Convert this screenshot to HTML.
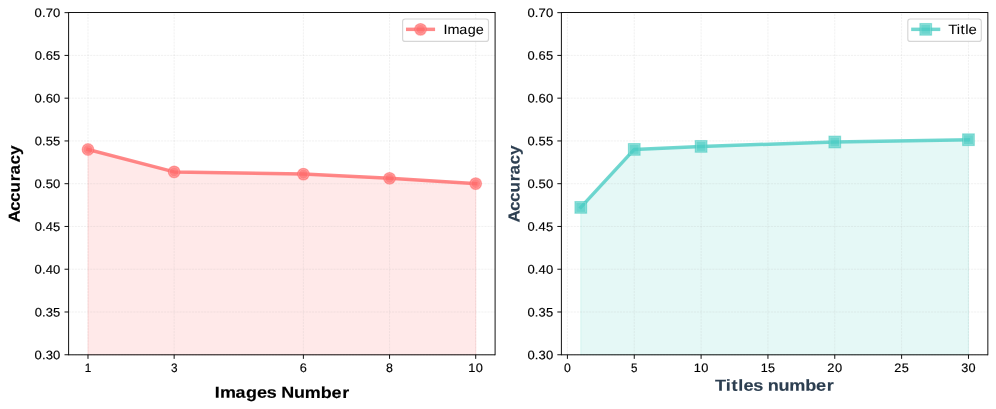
<!DOCTYPE html>
<html><head><meta charset="utf-8"><title>Accuracy vs Images / Titles</title>
<style>
html,body{margin:0;padding:0;background:#fff;}
body{width:996px;height:409px;overflow:hidden;}
svg{display:block;position:absolute;left:0;top:0;will-change:transform;}
svg text{font-family:"Liberation Sans",sans-serif;}
</style></head><body>
<svg width="996" height="409" viewBox="0 0 996 409">
<rect width="996" height="409" fill="#fff"/>
<polygon points="87.99,354.75 87.99,149.50 174.15,171.90 303.39,174.10 389.55,178.30 475.71,183.60 475.71,354.75" fill="#ff6b6b" fill-opacity="0.15" stroke="#ff6b6b" stroke-opacity="0.15" stroke-width="1.164"/>
<line x1="87.99" y1="354.75" x2="87.99" y2="12.65" stroke="#b0b0b0" stroke-opacity="0.3" stroke-width="0.58" stroke-dasharray="2.15 0.93"/>
<line x1="174.15" y1="354.75" x2="174.15" y2="12.65" stroke="#b0b0b0" stroke-opacity="0.3" stroke-width="0.58" stroke-dasharray="2.15 0.93"/>
<line x1="303.39" y1="354.75" x2="303.39" y2="12.65" stroke="#b0b0b0" stroke-opacity="0.3" stroke-width="0.58" stroke-dasharray="2.15 0.93"/>
<line x1="389.55" y1="354.75" x2="389.55" y2="12.65" stroke="#b0b0b0" stroke-opacity="0.3" stroke-width="0.58" stroke-dasharray="2.15 0.93"/>
<line x1="475.71" y1="354.75" x2="475.71" y2="12.65" stroke="#b0b0b0" stroke-opacity="0.3" stroke-width="0.58" stroke-dasharray="2.15 0.93"/>
<line x1="68.6" y1="354.75" x2="495.1" y2="354.75" stroke="#b0b0b0" stroke-opacity="0.3" stroke-width="0.58" stroke-dasharray="2.15 0.93"/>
<line x1="68.6" y1="311.99" x2="495.1" y2="311.99" stroke="#b0b0b0" stroke-opacity="0.3" stroke-width="0.58" stroke-dasharray="2.15 0.93"/>
<line x1="68.6" y1="269.22" x2="495.1" y2="269.22" stroke="#b0b0b0" stroke-opacity="0.3" stroke-width="0.58" stroke-dasharray="2.15 0.93"/>
<line x1="68.6" y1="226.46" x2="495.1" y2="226.46" stroke="#b0b0b0" stroke-opacity="0.3" stroke-width="0.58" stroke-dasharray="2.15 0.93"/>
<line x1="68.6" y1="183.70" x2="495.1" y2="183.70" stroke="#b0b0b0" stroke-opacity="0.3" stroke-width="0.58" stroke-dasharray="2.15 0.93"/>
<line x1="68.6" y1="140.94" x2="495.1" y2="140.94" stroke="#b0b0b0" stroke-opacity="0.3" stroke-width="0.58" stroke-dasharray="2.15 0.93"/>
<line x1="68.6" y1="98.17" x2="495.1" y2="98.17" stroke="#b0b0b0" stroke-opacity="0.3" stroke-width="0.58" stroke-dasharray="2.15 0.93"/>
<line x1="68.6" y1="55.41" x2="495.1" y2="55.41" stroke="#b0b0b0" stroke-opacity="0.3" stroke-width="0.58" stroke-dasharray="2.15 0.93"/>
<line x1="68.6" y1="12.65" x2="495.1" y2="12.65" stroke="#b0b0b0" stroke-opacity="0.3" stroke-width="0.58" stroke-dasharray="2.15 0.93"/>
<polyline points="87.99,149.50 174.15,171.90 303.39,174.10 389.55,178.30 475.71,183.60" fill="none" stroke="#ff6b6b" stroke-opacity="0.8" stroke-width="3.492" stroke-linejoin="round" stroke-linecap="square"/>
<circle cx="87.99" cy="149.50" r="5.82" fill="#ff6b6b" fill-opacity="0.8" stroke="#ff6b6b" stroke-opacity="0.5" stroke-width="1.164"/>
<circle cx="87.99" cy="149.50" r="4.80" fill="#ff6b6b" fill-opacity="0.12" stroke="#fff" stroke-opacity="0.28" stroke-width="0.7"/>
<circle cx="174.15" cy="171.90" r="5.82" fill="#ff6b6b" fill-opacity="0.8" stroke="#ff6b6b" stroke-opacity="0.5" stroke-width="1.164"/>
<circle cx="174.15" cy="171.90" r="4.80" fill="#ff6b6b" fill-opacity="0.12" stroke="#fff" stroke-opacity="0.28" stroke-width="0.7"/>
<circle cx="303.39" cy="174.10" r="5.82" fill="#ff6b6b" fill-opacity="0.8" stroke="#ff6b6b" stroke-opacity="0.5" stroke-width="1.164"/>
<circle cx="303.39" cy="174.10" r="4.80" fill="#ff6b6b" fill-opacity="0.12" stroke="#fff" stroke-opacity="0.28" stroke-width="0.7"/>
<circle cx="389.55" cy="178.30" r="5.82" fill="#ff6b6b" fill-opacity="0.8" stroke="#ff6b6b" stroke-opacity="0.5" stroke-width="1.164"/>
<circle cx="389.55" cy="178.30" r="4.80" fill="#ff6b6b" fill-opacity="0.12" stroke="#fff" stroke-opacity="0.28" stroke-width="0.7"/>
<circle cx="475.71" cy="183.60" r="5.82" fill="#ff6b6b" fill-opacity="0.8" stroke="#ff6b6b" stroke-opacity="0.5" stroke-width="1.164"/>
<circle cx="475.71" cy="183.60" r="4.80" fill="#ff6b6b" fill-opacity="0.12" stroke="#fff" stroke-opacity="0.28" stroke-width="0.7"/>
<path d="M68.6,354.8 H495.1 M68.6,12.5 H495.1 M68.6,355.265 V12.035 M495.1,355.265 V12.035" fill="none" stroke="#000" stroke-width="0.93"/>
<line x1="87.99" y1="354.8" x2="87.99" y2="358.87" stroke="#000" stroke-width="0.93"/>
<line x1="174.15" y1="354.8" x2="174.15" y2="358.87" stroke="#000" stroke-width="0.93"/>
<line x1="303.39" y1="354.8" x2="303.39" y2="358.87" stroke="#000" stroke-width="0.93"/>
<line x1="389.55" y1="354.8" x2="389.55" y2="358.87" stroke="#000" stroke-width="0.93"/>
<line x1="475.71" y1="354.8" x2="475.71" y2="358.87" stroke="#000" stroke-width="0.93"/>
<line x1="64.53" y1="354.75" x2="68.6" y2="354.75" stroke="#000" stroke-width="0.93"/>
<line x1="64.53" y1="311.99" x2="68.6" y2="311.99" stroke="#000" stroke-width="0.93"/>
<line x1="64.53" y1="269.22" x2="68.6" y2="269.22" stroke="#000" stroke-width="0.93"/>
<line x1="64.53" y1="226.46" x2="68.6" y2="226.46" stroke="#000" stroke-width="0.93"/>
<line x1="64.53" y1="183.70" x2="68.6" y2="183.70" stroke="#000" stroke-width="0.93"/>
<line x1="64.53" y1="140.94" x2="68.6" y2="140.94" stroke="#000" stroke-width="0.93"/>
<line x1="64.53" y1="98.17" x2="68.6" y2="98.17" stroke="#000" stroke-width="0.93"/>
<line x1="64.53" y1="55.41" x2="68.6" y2="55.41" stroke="#000" stroke-width="0.93"/>
<line x1="64.53" y1="12.65" x2="68.6" y2="12.65" stroke="#000" stroke-width="0.93"/>
<text transform="translate(84.28,371.95) rotate(0.05) scale(0.9502,1)" x="0.41" font-size="12.33" font-weight="normal" fill="#000" stroke="#000" stroke-width="0.15">1</text>
<text transform="translate(170.45,371.95) rotate(0.05) scale(0.9554,1)" x="0.46" font-size="12.33" font-weight="normal" fill="#000" stroke="#000" stroke-width="0.15">3</text>
<text transform="translate(299.69,371.95) rotate(0.05) scale(1.0296,1)" x="0.16" font-size="12.33" font-weight="normal" fill="#000" stroke="#000" stroke-width="0.15">6</text>
<text transform="translate(385.85,371.95) rotate(0.05) scale(1.0056,1)" x="0.25" font-size="12.33" font-weight="normal" fill="#000" stroke="#000" stroke-width="0.15">8</text>
<text transform="translate(468.31,371.95) rotate(0.05) scale(1.0376,1)" x="0.07 7.27" font-size="12.33" font-weight="normal" fill="#000" stroke="#000" stroke-width="0.15">10</text>
<text transform="translate(34.53,359.15) rotate(0.05) scale(1.0580,1)" x="0.07 7.03 10.58 17.56" font-size="12.33" font-weight="normal" fill="#000" stroke="#000" stroke-width="0.15">0.30</text>
<text transform="translate(34.53,316.39) rotate(0.05) scale(1.0490,1)" x="0.10 7.10 10.70 17.70" font-size="12.33" font-weight="normal" fill="#000" stroke="#000" stroke-width="0.15">0.35</text>
<text transform="translate(34.53,273.62) rotate(0.05) scale(1.0580,1)" x="0.07 7.03 10.57 17.56" font-size="12.33" font-weight="normal" fill="#000" stroke="#000" stroke-width="0.15">0.40</text>
<text transform="translate(34.53,230.86) rotate(0.05) scale(1.0490,1)" x="0.10 7.10 10.69 17.70" font-size="12.33" font-weight="normal" fill="#000" stroke="#000" stroke-width="0.15">0.45</text>
<text transform="translate(34.53,188.10) rotate(0.05) scale(1.0580,1)" x="0.07 7.03 10.52 17.56" font-size="12.33" font-weight="normal" fill="#000" stroke="#000" stroke-width="0.15">0.50</text>
<text transform="translate(34.53,145.34) rotate(0.05) scale(1.0490,1)" x="0.10 7.10 10.64 17.70" font-size="12.33" font-weight="normal" fill="#000" stroke="#000" stroke-width="0.15">0.55</text>
<text transform="translate(34.53,102.57) rotate(0.05) scale(1.0580,1)" x="0.07 7.03 10.56 17.56" font-size="12.33" font-weight="normal" fill="#000" stroke="#000" stroke-width="0.15">0.60</text>
<text transform="translate(34.53,59.81) rotate(0.05) scale(1.0490,1)" x="0.10 7.10 10.68 17.70" font-size="12.33" font-weight="normal" fill="#000" stroke="#000" stroke-width="0.15">0.65</text>
<text transform="translate(34.53,17.05) rotate(0.05) scale(1.0580,1)" x="0.07 7.03 10.54 17.56" font-size="12.33" font-weight="normal" fill="#000" stroke="#000" stroke-width="0.15">0.70</text>
<rect x="402.6" y="19.0" width="85.90" height="22.45" rx="2.56" ry="2.56" fill="#fff" fill-opacity="0.8" stroke="#cccccc" stroke-opacity="0.8" stroke-width="1.164"/>
<line x1="407.72" y1="29.35" x2="433.33" y2="29.35" stroke="#ff6b6b" stroke-opacity="0.8" stroke-width="3.492" stroke-linecap="square"/>
<circle cx="420.53" cy="29.35" r="5.82" fill="#ff6b6b" fill-opacity="0.8" stroke="#ff6b6b" stroke-opacity="0.5" stroke-width="1.164"/>
<circle cx="420.53" cy="29.35" r="4.80" fill="#ff6b6b" fill-opacity="0.12" stroke="#fff" stroke-opacity="0.28" stroke-width="0.7"/>
<text transform="translate(443.57,34.00) rotate(0.05) scale(1.0644,1)" x="-0.11 3.79 14.71 22.62 30.22" font-size="13.57" font-weight="normal" fill="#000" stroke="#000" stroke-width="0.05">Image</text>
<polygon points="580.78,354.75 580.78,207.40 634.26,149.40 701.10,146.40 834.78,142.00 968.47,139.70 968.47,354.75" fill="#4ecdc4" fill-opacity="0.15" stroke="#4ecdc4" stroke-opacity="0.15" stroke-width="1.164"/>
<line x1="567.42" y1="354.75" x2="567.42" y2="12.65" stroke="#b0b0b0" stroke-opacity="0.3" stroke-width="0.58" stroke-dasharray="2.15 0.93"/>
<line x1="634.26" y1="354.75" x2="634.26" y2="12.65" stroke="#b0b0b0" stroke-opacity="0.3" stroke-width="0.58" stroke-dasharray="2.15 0.93"/>
<line x1="701.10" y1="354.75" x2="701.10" y2="12.65" stroke="#b0b0b0" stroke-opacity="0.3" stroke-width="0.58" stroke-dasharray="2.15 0.93"/>
<line x1="767.94" y1="354.75" x2="767.94" y2="12.65" stroke="#b0b0b0" stroke-opacity="0.3" stroke-width="0.58" stroke-dasharray="2.15 0.93"/>
<line x1="834.78" y1="354.75" x2="834.78" y2="12.65" stroke="#b0b0b0" stroke-opacity="0.3" stroke-width="0.58" stroke-dasharray="2.15 0.93"/>
<line x1="901.62" y1="354.75" x2="901.62" y2="12.65" stroke="#b0b0b0" stroke-opacity="0.3" stroke-width="0.58" stroke-dasharray="2.15 0.93"/>
<line x1="968.47" y1="354.75" x2="968.47" y2="12.65" stroke="#b0b0b0" stroke-opacity="0.3" stroke-width="0.58" stroke-dasharray="2.15 0.93"/>
<line x1="561.4" y1="354.75" x2="987.85" y2="354.75" stroke="#b0b0b0" stroke-opacity="0.3" stroke-width="0.58" stroke-dasharray="2.15 0.93"/>
<line x1="561.4" y1="311.99" x2="987.85" y2="311.99" stroke="#b0b0b0" stroke-opacity="0.3" stroke-width="0.58" stroke-dasharray="2.15 0.93"/>
<line x1="561.4" y1="269.22" x2="987.85" y2="269.22" stroke="#b0b0b0" stroke-opacity="0.3" stroke-width="0.58" stroke-dasharray="2.15 0.93"/>
<line x1="561.4" y1="226.46" x2="987.85" y2="226.46" stroke="#b0b0b0" stroke-opacity="0.3" stroke-width="0.58" stroke-dasharray="2.15 0.93"/>
<line x1="561.4" y1="183.70" x2="987.85" y2="183.70" stroke="#b0b0b0" stroke-opacity="0.3" stroke-width="0.58" stroke-dasharray="2.15 0.93"/>
<line x1="561.4" y1="140.94" x2="987.85" y2="140.94" stroke="#b0b0b0" stroke-opacity="0.3" stroke-width="0.58" stroke-dasharray="2.15 0.93"/>
<line x1="561.4" y1="98.17" x2="987.85" y2="98.17" stroke="#b0b0b0" stroke-opacity="0.3" stroke-width="0.58" stroke-dasharray="2.15 0.93"/>
<line x1="561.4" y1="55.41" x2="987.85" y2="55.41" stroke="#b0b0b0" stroke-opacity="0.3" stroke-width="0.58" stroke-dasharray="2.15 0.93"/>
<line x1="561.4" y1="12.65" x2="987.85" y2="12.65" stroke="#b0b0b0" stroke-opacity="0.3" stroke-width="0.58" stroke-dasharray="2.15 0.93"/>
<polyline points="580.78,207.40 634.26,149.40 701.10,146.40 834.78,142.00 968.47,139.70" fill="none" stroke="#4ecdc4" stroke-opacity="0.8" stroke-width="3.492" stroke-linejoin="round" stroke-linecap="square"/>
<rect x="574.96" y="201.58" width="11.64" height="11.64" fill="#4ecdc4" fill-opacity="0.8" stroke="#4ecdc4" stroke-opacity="0.5" stroke-width="1.164" stroke-linejoin="miter"/>
<rect x="575.98" y="202.60" width="9.60" height="9.60" fill="#4ecdc4" fill-opacity="0.12" stroke="#fff" stroke-opacity="0.28" stroke-width="0.7"/>
<rect x="628.44" y="143.58" width="11.64" height="11.64" fill="#4ecdc4" fill-opacity="0.8" stroke="#4ecdc4" stroke-opacity="0.5" stroke-width="1.164" stroke-linejoin="miter"/>
<rect x="629.46" y="144.60" width="9.60" height="9.60" fill="#4ecdc4" fill-opacity="0.12" stroke="#fff" stroke-opacity="0.28" stroke-width="0.7"/>
<rect x="695.28" y="140.58" width="11.64" height="11.64" fill="#4ecdc4" fill-opacity="0.8" stroke="#4ecdc4" stroke-opacity="0.5" stroke-width="1.164" stroke-linejoin="miter"/>
<rect x="696.30" y="141.60" width="9.60" height="9.60" fill="#4ecdc4" fill-opacity="0.12" stroke="#fff" stroke-opacity="0.28" stroke-width="0.7"/>
<rect x="828.96" y="136.18" width="11.64" height="11.64" fill="#4ecdc4" fill-opacity="0.8" stroke="#4ecdc4" stroke-opacity="0.5" stroke-width="1.164" stroke-linejoin="miter"/>
<rect x="829.98" y="137.20" width="9.60" height="9.60" fill="#4ecdc4" fill-opacity="0.12" stroke="#fff" stroke-opacity="0.28" stroke-width="0.7"/>
<rect x="962.65" y="133.88" width="11.64" height="11.64" fill="#4ecdc4" fill-opacity="0.8" stroke="#4ecdc4" stroke-opacity="0.5" stroke-width="1.164" stroke-linejoin="miter"/>
<rect x="963.67" y="134.90" width="9.60" height="9.60" fill="#4ecdc4" fill-opacity="0.12" stroke="#fff" stroke-opacity="0.28" stroke-width="0.7"/>
<path d="M561.4,354.8 H987.85 M561.4,12.5 H987.85 M561.4,355.265 V12.035 M987.85,355.265 V12.035" fill="none" stroke="#000" stroke-width="0.93"/>
<line x1="567.42" y1="354.8" x2="567.42" y2="358.87" stroke="#000" stroke-width="0.93"/>
<line x1="634.26" y1="354.8" x2="634.26" y2="358.87" stroke="#000" stroke-width="0.93"/>
<line x1="701.10" y1="354.8" x2="701.10" y2="358.87" stroke="#000" stroke-width="0.93"/>
<line x1="767.94" y1="354.8" x2="767.94" y2="358.87" stroke="#000" stroke-width="0.93"/>
<line x1="834.78" y1="354.8" x2="834.78" y2="358.87" stroke="#000" stroke-width="0.93"/>
<line x1="901.62" y1="354.8" x2="901.62" y2="358.87" stroke="#000" stroke-width="0.93"/>
<line x1="968.47" y1="354.8" x2="968.47" y2="358.87" stroke="#000" stroke-width="0.93"/>
<line x1="557.33" y1="354.75" x2="561.4" y2="354.75" stroke="#000" stroke-width="0.93"/>
<line x1="557.33" y1="311.99" x2="561.4" y2="311.99" stroke="#000" stroke-width="0.93"/>
<line x1="557.33" y1="269.22" x2="561.4" y2="269.22" stroke="#000" stroke-width="0.93"/>
<line x1="557.33" y1="226.46" x2="561.4" y2="226.46" stroke="#000" stroke-width="0.93"/>
<line x1="557.33" y1="183.70" x2="561.4" y2="183.70" stroke="#000" stroke-width="0.93"/>
<line x1="557.33" y1="140.94" x2="561.4" y2="140.94" stroke="#000" stroke-width="0.93"/>
<line x1="557.33" y1="98.17" x2="561.4" y2="98.17" stroke="#000" stroke-width="0.93"/>
<line x1="557.33" y1="55.41" x2="561.4" y2="55.41" stroke="#000" stroke-width="0.93"/>
<line x1="557.33" y1="12.65" x2="561.4" y2="12.65" stroke="#000" stroke-width="0.93"/>
<text transform="translate(563.71,371.95) rotate(0.05) scale(0.9949,1)" x="0.29" font-size="12.33" font-weight="normal" fill="#000" stroke="#000" stroke-width="0.15">0</text>
<text transform="translate(630.55,371.95) rotate(0.05) scale(0.9389,1)" x="0.46" font-size="12.33" font-weight="normal" fill="#000" stroke="#000" stroke-width="0.15">5</text>
<text transform="translate(693.69,371.95) rotate(0.05) scale(1.0376,1)" x="0.07 7.27" font-size="12.33" font-weight="normal" fill="#000" stroke="#000" stroke-width="0.15">10</text>
<text transform="translate(760.54,371.95) rotate(0.05) scale(1.0207,1)" x="0.13 7.41" font-size="12.33" font-weight="normal" fill="#000" stroke="#000" stroke-width="0.15">15</text>
<text transform="translate(827.38,371.95) rotate(0.05) scale(1.0451,1)" x="-0.04 7.20" font-size="12.33" font-weight="normal" fill="#000" stroke="#000" stroke-width="0.15">20</text>
<text transform="translate(894.22,371.95) rotate(0.05) scale(1.0287,1)" x="0.02 7.32" font-size="12.33" font-weight="normal" fill="#000" stroke="#000" stroke-width="0.15">25</text>
<text transform="translate(961.06,371.95) rotate(0.05) scale(1.0301,1)" x="0.18 7.35" font-size="12.33" font-weight="normal" fill="#000" stroke="#000" stroke-width="0.15">30</text>
<text transform="translate(527.33,359.15) rotate(0.05) scale(1.0580,1)" x="0.07 7.03 10.58 17.56" font-size="12.33" font-weight="normal" fill="#000" stroke="#000" stroke-width="0.15">0.30</text>
<text transform="translate(527.33,316.39) rotate(0.05) scale(1.0490,1)" x="0.10 7.10 10.70 17.70" font-size="12.33" font-weight="normal" fill="#000" stroke="#000" stroke-width="0.15">0.35</text>
<text transform="translate(527.33,273.62) rotate(0.05) scale(1.0580,1)" x="0.07 7.03 10.57 17.56" font-size="12.33" font-weight="normal" fill="#000" stroke="#000" stroke-width="0.15">0.40</text>
<text transform="translate(527.33,230.86) rotate(0.05) scale(1.0490,1)" x="0.10 7.10 10.69 17.70" font-size="12.33" font-weight="normal" fill="#000" stroke="#000" stroke-width="0.15">0.45</text>
<text transform="translate(527.33,188.10) rotate(0.05) scale(1.0580,1)" x="0.07 7.03 10.52 17.56" font-size="12.33" font-weight="normal" fill="#000" stroke="#000" stroke-width="0.15">0.50</text>
<text transform="translate(527.33,145.34) rotate(0.05) scale(1.0490,1)" x="0.10 7.10 10.64 17.70" font-size="12.33" font-weight="normal" fill="#000" stroke="#000" stroke-width="0.15">0.55</text>
<text transform="translate(527.33,102.57) rotate(0.05) scale(1.0580,1)" x="0.07 7.03 10.56 17.56" font-size="12.33" font-weight="normal" fill="#000" stroke="#000" stroke-width="0.15">0.60</text>
<text transform="translate(527.33,59.81) rotate(0.05) scale(1.0490,1)" x="0.10 7.10 10.68 17.70" font-size="12.33" font-weight="normal" fill="#000" stroke="#000" stroke-width="0.15">0.65</text>
<text transform="translate(527.33,17.05) rotate(0.05) scale(1.0580,1)" x="0.07 7.03 10.54 17.56" font-size="12.33" font-weight="normal" fill="#000" stroke="#000" stroke-width="0.15">0.70</text>
<rect x="907.8" y="19.0" width="73.50" height="22.45" rx="2.56" ry="2.56" fill="#fff" fill-opacity="0.8" stroke="#cccccc" stroke-opacity="0.8" stroke-width="1.164"/>
<line x1="912.92" y1="29.35" x2="938.53" y2="29.35" stroke="#4ecdc4" stroke-opacity="0.8" stroke-width="3.492" stroke-linecap="square"/>
<rect x="919.91" y="23.53" width="11.64" height="11.64" fill="#4ecdc4" fill-opacity="0.8" stroke="#4ecdc4" stroke-opacity="0.5" stroke-width="1.164" stroke-linejoin="miter"/>
<rect x="920.93" y="24.55" width="9.60" height="9.60" fill="#4ecdc4" fill-opacity="0.12" stroke="#fff" stroke-opacity="0.28" stroke-width="0.7"/>
<text transform="translate(948.77,34.00) rotate(0.05) scale(1.0998,1)" x="-0.58 7.23 10.71 15.02 17.98" font-size="13.57" font-weight="normal" fill="#000" stroke="#000" stroke-width="0.05">Title</text>
<text transform="translate(214.48,397.80) rotate(0.05) scale(1.1204,1)" x="0.28 4.93 18.67 28.09 37.92 46.68 55.20 59.64 70.98 80.60 94.77 104.48 113.95" font-size="16.03" font-weight="bold" fill="#000" stroke="#000" stroke-width="0.15">Images Number</text>
<text transform="translate(715.46,390.75) rotate(0.05) scale(1.1291,1)" x="-0.33 9.22 14.20 20.22 24.75 33.43 41.91 46.35 55.88 65.40 79.48 89.12 98.52" font-size="16.03" font-weight="bold" fill="#2c3e50" stroke="#2c3e50" stroke-width="0.15">Titles number</text>
<text transform="translate(19.80,222.17) rotate(-89.95) scale(1.0679,1)" x="-0.29 10.46 18.86 27.90 38.39 44.62 53.90 62.90" font-size="16.03" font-weight="bold" fill="#000" stroke="#000" stroke-width="0.15">Accuracy</text>
<text transform="translate(519.40,222.17) rotate(-89.95) scale(1.0679,1)" x="-0.29 10.46 18.86 27.90 38.39 44.62 53.90 62.90" font-size="16.03" font-weight="bold" fill="#2c3e50" stroke="#2c3e50" stroke-width="0.15">Accuracy</text>
</svg>
</body></html>
